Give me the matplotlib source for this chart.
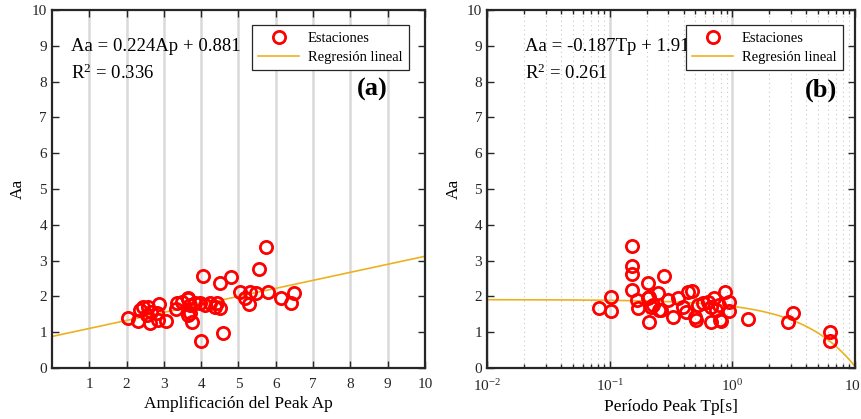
import numpy as np
import matplotlib
matplotlib.use("Agg")
import matplotlib.pyplot as plt
from matplotlib.ticker import LogLocator, NullFormatter

plt.rcParams['font.family'] = ['Liberation Serif', 'DejaVu Serif']
plt.rcParams['mathtext.fontset'] = 'custom'
plt.rcParams['mathtext.rm'] = 'Liberation Serif'
plt.rcParams['mathtext.it'] = 'Liberation Serif:italic'
plt.rcParams['mathtext.bf'] = 'Liberation Serif:bold'

# Panel (a): peak amplification vs Aa
ap_a = [2.03, 2.30, 2.36, 2.45, 2.54, 2.58, 2.65, 2.63, 2.81, 2.85, 2.88, 3.07, 3.32, 3.34, 3.48,
        3.64, 3.65, 3.65, 3.70, 3.70, 3.76, 3.83, 3.97, 3.99, 4.04, 4.10, 4.24, 4.37, 4.42, 4.50,
        4.50, 4.59, 4.79, 5.04, 5.17, 5.29, 5.31, 5.47, 5.56, 5.73, 5.80, 6.13, 6.41, 6.49]
aa_a = [1.40, 1.31, 1.62, 1.71, 1.48, 1.71, 1.57, 1.25, 1.53, 1.34, 1.79, 1.31, 1.64, 1.82, 1.85,
        1.92, 1.95, 1.48, 1.76, 1.53, 1.28, 1.81, 1.81, 0.76, 2.57, 1.76, 1.81, 1.71, 1.82, 1.68,
        2.37, 0.99, 2.53, 2.13, 1.95, 1.79, 2.13, 2.09, 2.76, 3.37, 2.13, 1.95, 1.82, 2.10]
slope_a, icpt_a, r2_a = 0.224, 0.881, 0.336

# Panel (b): peak period vs Aa
tp_b = [0.082, 0.102, 0.102, 0.152, 0.152, 0.152, 0.152, 0.168, 0.169, 0.205, 0.205, 0.208, 0.208,
        0.218, 0.225, 0.247, 0.254, 0.263, 0.277, 0.299, 0.325, 0.358, 0.395, 0.419, 0.434, 0.469,
        0.491, 0.504, 0.521, 0.572, 0.627, 0.668, 0.668, 0.71, 0.735, 0.775, 0.786, 0.81, 0.876,
        0.936, 0.936, 1.35, 2.82, 3.09, 6.27, 6.27]
aa_b = [1.67, 1.99, 1.59, 3.41, 2.85, 2.62, 2.18, 1.90, 1.67, 2.38, 1.95, 1.99, 1.29, 1.71, 1.76,
        2.09, 1.62, 1.62, 2.57, 1.90, 1.43, 1.95, 1.71, 1.57, 2.13, 2.16, 1.43, 1.34, 1.76, 1.81,
        1.85, 1.71, 1.29, 1.95, 1.62, 1.76, 1.34, 1.32, 2.13, 1.85, 1.60, 1.36, 1.29, 1.53, 1.01, 0.75]
slope_b, icpt_b, r2_b = -0.187, 1.91, 0.261

RED = '#ff0000'
ORANGE = '#EDB120'
GRID = '#d9d9d9'

fig = plt.figure(figsize=(8.62, 4.19), dpi=100)
ax1 = fig.add_axes([0.0603, 0.1217, 0.4327, 0.8544])
ax2 = fig.add_axes([0.565, 0.1217, 0.427, 0.8544])


def style(ax):
    for s in ax.spines.values():
        s.set_linewidth(1.6)
        s.set_color('#262626')
    ax.tick_params(direction='in', which='both', top=True, right=True,
                   labelsize=11, colors='#262626', width=1.0)
    ax.tick_params(which='major', length=5)
    ax.tick_params(which='minor', length=3)
    ax.tick_params(axis='x', pad=7)
    ax.set_ylim(0, 10)
    ax.set_yticks(range(0, 11))
    ax.set_ylabel('Aa', fontsize=12.5)


def add_legend(ax, right):
    leg = ax.legend(loc='upper right', bbox_to_anchor=(right, 0.958), borderaxespad=0,
                    fontsize=10.5, fancybox=False, framealpha=1, edgecolor='#262626',
                    borderpad=0.45, handlelength=2.8, labelspacing=0.4, handletextpad=0.6)
    leg.get_frame().set_linewidth(0.9)
    leg.set_zorder(10)


# ---- (a)
style(ax1)
ax1.set_xlim(0, 10)
ax1.set_xticks(range(1, 11))
ax1.grid(axis='x', color=GRID, linewidth=1.8, zorder=0)
ax1.set_axisbelow(True)
xs = np.linspace(0, 10, 200)
ax1.plot(ap_a, aa_a, 'o', ms=8.8, mfc='none', mec=RED, mew=2.0, label='Estaciones', zorder=3)
ax1.plot(xs, slope_a * xs + icpt_a, color=ORANGE, lw=1.2, label='Regresión lineal', zorder=2)
ax1.set_xlabel('Amplificación del Peak Ap', fontsize=12.5)
ax1.text(0.5, 8.97, f'Aa = {slope_a:.3f}Ap + {icpt_a:.3f}', fontsize=13.5, va='center', zorder=1)
ax1.text(0.5, 8.22, f'R$^2$ = {r2_a:.3f}', fontsize=13.5, va='center', zorder=1)
ax1.text(0.90, 0.777, '(a)', transform=ax1.transAxes, fontsize=19, fontweight='bold',
         ha='right', va='center')
add_legend(ax1, 0.957)

# ---- (b)
style(ax2)
ax2.set_xscale('log')
ax2.set_xlim(1e-2, 1e1)
ax2.xaxis.set_major_locator(LogLocator(base=10, numticks=10))
ax2.xaxis.set_minor_locator(LogLocator(base=10, subs=np.arange(2, 10), numticks=10))
ax2.xaxis.set_minor_formatter(NullFormatter())
ax2.grid(axis='x', which='major', color=GRID, linewidth=1.8, zorder=0)
ax2.grid(axis='x', which='minor', color='#c8c8c8', linewidth=0.8, linestyle=(0, (1, 3)), zorder=0)
ax2.set_axisbelow(True)
xl = np.logspace(-2, 1, 400)
ax2.plot(tp_b, aa_b, 'o', ms=8.8, mfc='none', mec=RED, mew=2.0, label='Estaciones', zorder=3)
ax2.plot(xl, slope_b * xl + icpt_b, color=ORANGE, lw=1.2, label='Regresión lineal', zorder=2)
ax2.set_xlabel('Período Peak Tp[s]', fontsize=12.5)
ax2.text(0.0204, 8.97, f'Aa = {slope_b:.3f}Tp + {icpt_b:.2f}', fontsize=13.5, va='center', zorder=1)
ax2.text(0.0204, 8.22, f'R$^2$ = {r2_b:.3f}', fontsize=13.5, va='center', zorder=1)
ax2.text(0.951, 0.777, '(b)', transform=ax2.transAxes, fontsize=19, fontweight='bold',
         ha='right', va='center')
add_legend(ax2, 0.967)

fig.savefig('out.png', dpi=100)
